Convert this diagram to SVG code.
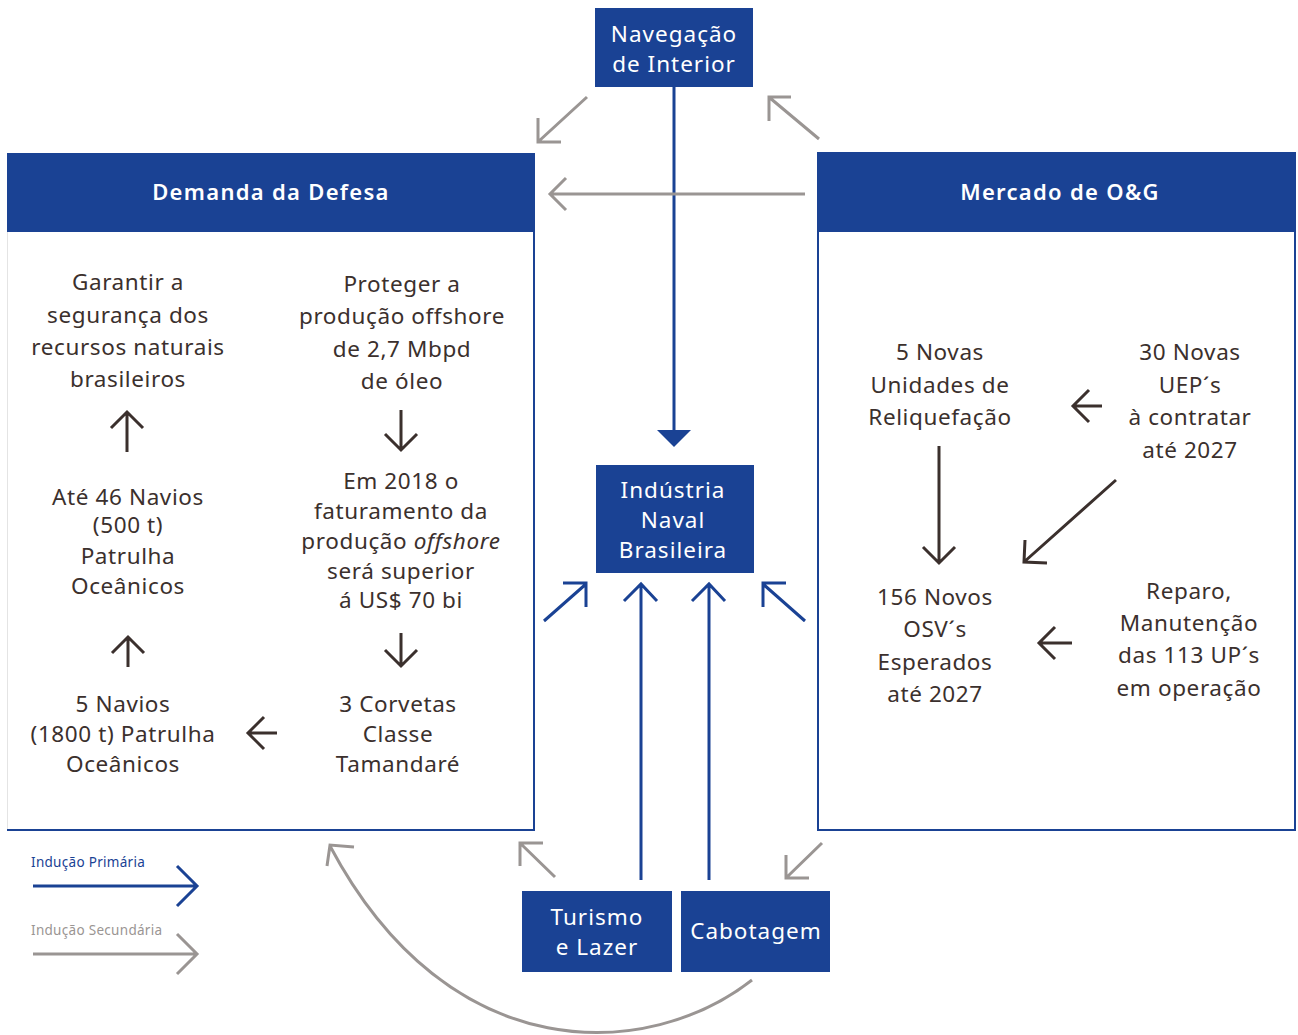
<svg xmlns="http://www.w3.org/2000/svg" width="1298" height="1035" viewBox="0 0 1298 1035">
<style>
.bx{fill:#1a4294}
.wt{fill:#fff;font-family:"Noto Sans","Open Sans",sans-serif;font-size:22.5px;letter-spacing:1px;text-anchor:middle}
.hd{fill:#fff;font-family:"Noto Sans","Open Sans",sans-serif;font-size:22px;font-weight:600;letter-spacing:1.3px;text-anchor:middle}
.tx{fill:#3b302d;font-family:"Noto Sans","Open Sans",sans-serif;font-size:22.5px;letter-spacing:0.6px;text-anchor:middle}
.bl{stroke:#1a4294;stroke-width:3;fill:none}
.gr{stroke:#9a9593;stroke-width:3;fill:none}
.dk{stroke:#3b302d;stroke-width:3;fill:none}
.lg{font-family:"Noto Sans","Open Sans",sans-serif;font-size:13.5px;letter-spacing:0.3px}
</style>
<rect width="1298" height="1035" fill="#fff"/>
<g id="demanda">
<line x1="7.5" y1="232" x2="7.5" y2="830" stroke="#e4e4e4" stroke-width="1"/>
<polyline points="534,153 534,830 7,830" stroke="#1a4294" stroke-width="2" fill="none"/>
<rect class="bx" x="7" y="153" width="528" height="79"/>
<text class="hd" x="271" y="200">Demanda da Defesa</text>
<text class="tx"><tspan x="128" y="290">Garantir a</tspan><tspan x="128" y="323">segurança dos</tspan><tspan x="128" y="355">recursos naturais</tspan><tspan x="128" y="387">brasileiros</tspan></text>
<text class="tx"><tspan x="402" y="292">Proteger a</tspan><tspan x="402" y="324">produção offshore</tspan><tspan x="402" y="357">de 2,7 Mbpd</tspan><tspan x="402" y="389">de óleo</tspan></text>
<text class="tx"><tspan x="128" y="505">Até 46 Navios</tspan><tspan x="128" y="533">(500 t)</tspan><tspan x="128" y="564">Patrulha</tspan><tspan x="128" y="594">Oceânicos</tspan></text>
<text class="tx"><tspan x="401" y="489">Em 2018 o</tspan><tspan x="401" y="519">faturamento da</tspan><tspan x="401" y="549">produção <tspan font-style="italic">offshore</tspan></tspan><tspan x="401" y="579">será superior</tspan><tspan x="401" y="608">á US$ 70 bi</tspan></text>
<text class="tx"><tspan x="123" y="712">5 Navios</tspan><tspan x="123" y="742">(1800 t) Patrulha</tspan><tspan x="123" y="772">Oceânicos</tspan></text>
<text class="tx"><tspan x="398" y="712">3 Corvetas</tspan><tspan x="398" y="742">Classe</tspan><tspan x="398" y="772">Tamandaré</tspan></text>
<path class="dk" d="M127,452V412M111,428L127,412L143,428"/>
<path class="dk" d="M401,410V450M385,434L401,450L417,434"/>
<path class="dk" d="M128,667V637M112,653L128,637L144,653"/>
<path class="dk" d="M401,633V666M385,650L401,666L417,650"/>
<path class="dk" d="M277,733H248M264,717L248,733L264,749"/>
</g>
<g id="mercado">
<rect x="818" y="153" width="477" height="677" fill="none" stroke="#1a4294" stroke-width="2"/>
<rect class="bx" x="818" y="153" width="477" height="79"/>
<text class="hd" x="1060" y="200">Mercado de O&amp;G</text>
<text class="tx"><tspan x="940" y="360">5 Novas</tspan><tspan x="940" y="393">Unidades de</tspan><tspan x="940" y="425">Reliquefação</tspan></text>
<text class="tx"><tspan x="1190" y="360">30 Novas</tspan><tspan x="1190" y="393">UEP´s</tspan><tspan x="1190" y="425">à contratar</tspan><tspan x="1190" y="458">até 2027</tspan></text>
<text class="tx"><tspan x="935" y="605">156 Novos</tspan><tspan x="935" y="637">OSV´s</tspan><tspan x="935" y="670">Esperados</tspan><tspan x="935" y="702">até 2027</tspan></text>
<text class="tx"><tspan x="1189" y="599">Reparo,</tspan><tspan x="1189" y="631">Manutenção</tspan><tspan x="1189" y="663">das 113 UP´s</tspan><tspan x="1189" y="696">em operação</tspan></text>
<path class="dk" d="M1102,406H1073M1089,390L1073,406L1089,422"/>
<path class="dk" d="M939,446V563M923,547L939,563L955,547"/>
<path class="dk" d="M1116,480L1024,562M1025,540L1024,562L1047,563"/>
<path class="dk" d="M1072,643H1039M1055,627L1039,643L1055,659"/>
</g>
<g id="navegacao">
<rect class="bx" x="595" y="8" width="158" height="79"/>
<text class="wt"><tspan x="674" y="42">Navegação</tspan><tspan x="674" y="72">de Interior</tspan></text>
</g>
<g id="industria">
<rect class="bx" x="596" y="465" width="158" height="108"/>
<text class="wt"><tspan x="673" y="498">Indústria</tspan><tspan x="673" y="528">Naval</tspan><tspan x="673" y="558">Brasileira</tspan></text>
</g>
<g id="turismo">
<rect class="bx" x="522" y="891" width="150" height="81"/>
<text class="wt"><tspan x="597" y="925">Turismo</tspan><tspan x="597" y="955">e Lazer</tspan></text>
</g>
<g id="cabotagem">
<rect class="bx" x="681" y="891" width="149" height="81"/>
<text class="wt" x="756" y="939">Cabotagem</text>
</g>
<g id="connectors">
<path class="bl" d="M674,87V432"/>
<polygon points="657,430 691,430 674,447" fill="#1a4294"/>
<path class="bl" d="M544,621L586,584M563,583H586V607"/>
<path class="bl" d="M641,880V585M624,601L641,584L657,601"/>
<path class="bl" d="M709,880V585M692,601L709,584L725,601"/>
<path class="bl" d="M805,621L763,584M786,583H763V607"/>
<path class="gr" d="M587,97L539,141M538,118V142H561"/>
<path class="gr" d="M819,139L770,98M769,121V97H791"/>
<path class="gr" d="M805,194H550M566,178L550,194L566,210"/>
<path class="gr" d="M555,877L521,844M520,866V843H543"/>
<path class="gr" d="M822,843L787,877M786,855V878H809"/>
<path class="gr" d="M752,980C650,1060 450,1072 330,846M327,866L330,845L354,847"/>
<text class="lg" x="31" y="867" fill="#1a4294">Indução Primária</text>
<path class="bl" d="M33,886H197M177,866L197,886L177,906"/>
<text class="lg" x="31" y="935" fill="#9a9593">Indução Secundária</text>
<path class="gr" d="M33,954H197M177,934L197,954L177,974"/>
</g>
</svg>
